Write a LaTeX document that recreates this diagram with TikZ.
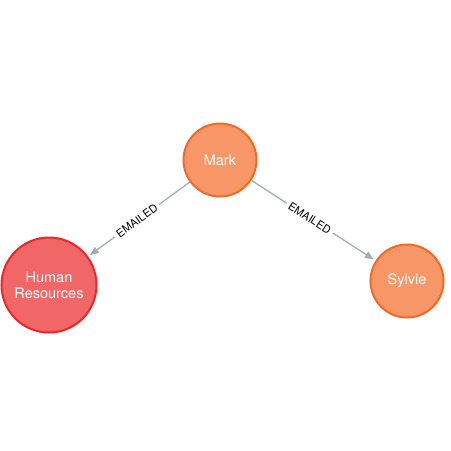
\documentclass[tikz,border=0pt]{standalone}
\usepackage{fontspec}
\setsansfont{TeX Gyre Heros}
\usetikzlibrary{arrows.meta,positioning}
\definecolor{personfill}{HTML}{F79767}
\definecolor{persondraw}{HTML}{F36924}
\definecolor{deptfill}{HTML}{F16667}
\definecolor{deptdraw}{HTML}{EB2728}
\definecolor{relgray}{HTML}{A5ABB6}
\begin{document}
\begin{tikzpicture}[
  x=1pt, y=-1pt, font=\sffamily, >={Triangle[length=9pt,width=7pt]},
  person/.style={circle, draw=persondraw, fill=personfill, line width=2pt, minimum size=73pt, inner sep=0pt, text=white, align=center, font=\sffamily\fontsize{14.5}{16}\selectfont},
  dept/.style={person, draw=deptdraw, fill=deptfill, minimum size=95pt},
  rel/.style={->, draw=relgray, line width=1.3pt, shorten >=2pt},
  rellabel/.style={sloped, fill=white, inner sep=3pt, text=black, font=\sffamily\fontsize{11}{13}\selectfont}
]
\useasboundingbox (0,0) rectangle (451,451);
\node[person] (mark) at (220,160) {Mark};
\node[dept] (hr) at (49,285) {Human\\Resources};
\node[person] (sylvie) at (407,281) {Sylvie};
\draw[rel] (mark) -- node[rellabel, pos=0.52] (lblhr) {EMAILED} (hr);
\draw[rel] (mark) -- node[rellabel, pos=0.47] (lblsylvie) {EMAILED} (sylvie);
\end{tikzpicture}
\end{document}
